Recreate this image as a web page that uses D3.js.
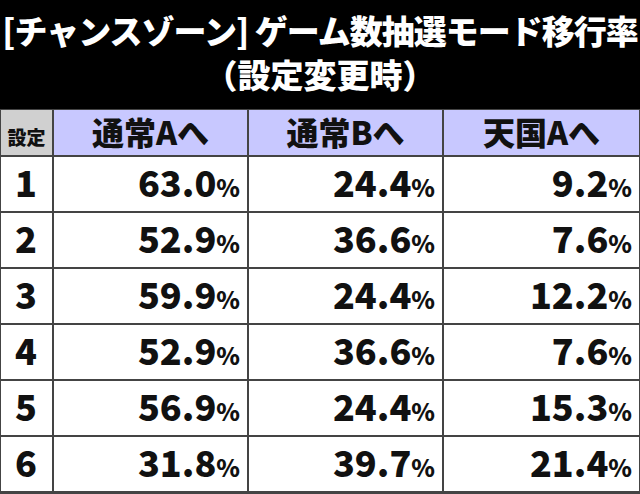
<!DOCTYPE html><html><head><meta charset="utf-8"><script src="https://cdn.jsdelivr.net/npm/d3@7"></script>
<style>body{margin:0;background:#000}</style></head><body><svg id="c" width="640" height="494"></svg><script>
const headers=["設定","通常Aへ","通常Bへ","天国Aへ"];
const settings=["1","2","3","4","5","6"];
const normalA=[63.0,52.9,59.9,52.9,56.9,31.8];
const normalB=[24.4,36.6,24.4,36.6,24.4,39.7];
const heavenA=[9.2,7.6,12.2,7.6,15.3,21.4];
const svg=d3.select("#c");
const F="'Noto Sans CJK JP',sans-serif";
svg.append("rect").attr("width",640).attr("height",494).attr("fill","#000");
svg.append("text").attr("x",320).attr("y",44).attr("text-anchor","middle").attr("fill","#fff").attr("font-family",F).attr("font-weight",900).attr("font-size",33).attr("letter-spacing",-1).text("[チャンスゾーン] ゲーム数抽選モード移行率");
svg.append("text").attr("x",320).attr("y",88).attr("text-anchor","middle").attr("fill","#fff").attr("font-family",F).attr("font-weight",900).attr("font-size",33).text("（設定変更時）");
const xs=[0,53,248,443,640];
const y=d3.scaleBand().domain(settings).range([156,492]);
const hY=109;
svg.append("rect").attr("x",0).attr("y",hY).attr("width",640).attr("height",494-hY).attr("fill","#444");
headers.forEach((h,i)=>{
 svg.append("rect").attr("x",xs[i]+1).attr("y",hY+1).attr("width",xs[i+1]-xs[i]-2).attr("height",156-hY-2).attr("fill",i==0?"#d0d0d0":"#c8c8ff");
 svg.append("text").attr("x",(xs[i]+xs[i+1])/2).attr("y",hY+36).attr("text-anchor","middle").attr("font-family",F).attr("font-weight",900).attr("font-size",i==0?19:32).attr("fill","#111").text(h);
});
const cols=[normalA,normalB,heavenA];
settings.forEach((s,r)=>{
 const yy=y(s),h=y.bandwidth();
 for(let i=0;i<4;i++) svg.append("rect").attr("x",xs[i]+1).attr("y",yy+1).attr("width",xs[i+1]-xs[i]-2).attr("height",h-2).attr("fill","#fff");
 svg.append("text").attr("x",26).attr("y",yy+h/2+13).attr("text-anchor","middle").attr("font-family",F).attr("font-weight",900).attr("font-size",36).attr("fill","#111").text(s);
 cols.forEach((c,i)=>{
  const t=svg.append("text").attr("x",xs[i+2]-8).attr("y",yy+h/2+13).attr("text-anchor","end").attr("font-family",F).attr("font-weight",900).attr("fill","#111");
  t.append("tspan").attr("font-size",36).text(c[r].toFixed(1));
  t.append("tspan").attr("font-size",24).text("%");
 });
});
</script></body></html>
